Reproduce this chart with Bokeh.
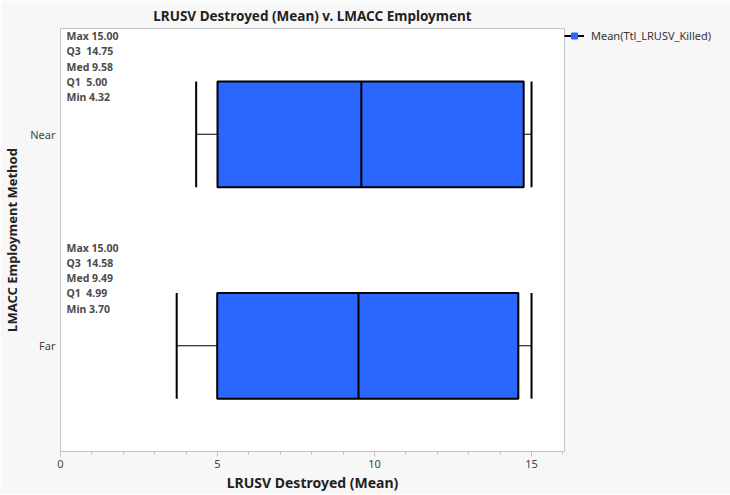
from bokeh.plotting import figure
from bokeh.models import (FactorRange, ColumnDataSource, Legend, LegendItem,
                          Range1d, FixedTicker)
from bokeh.transform import dodge
from bokeh.core.properties import value
from bokeh.embed import file_html
from bokeh.resources import INLINE

# ---- data ----
methods = ["Near", "Far"]
mins = [4.32, 3.70]
q1s = [5.00, 4.99]
meds = [9.58, 9.49]
q3s = [14.75, 14.58]
maxs = [15.00, 15.00]
x_ticks = [0, 5, 10, 15]
x_minor_ticks = list(range(0, 17))
legend_label = "Mean(Ttl_LRUSV_Killed)"
title_text = "LRUSV Destroyed (Mean) v. LMACC Employment"

NB = "\u00a0"
stats_text = [
    f"Max {mx:.2f}\nQ3{NB} {q3:.2f}\nMed {md:.2f}\nQ1{NB} {q1:.2f}\nMin {mn:.2f}"
    for mx, q3, md, q1, mn in zip(maxs, q3s, meds, q1s, mins)
]

FONT = "Noto Sans"
BLUE = "#2b66ff"

src = ColumnDataSource(dict(method=methods, lo=mins, q1=q1s, med=meds,
                            q3=q3s, hi=maxs, stats=stats_text))

p = figure(frame_width=504, frame_height=423,
           y_range=FactorRange(factors=["Far", "Near"], range_padding=0),
           x_range=Range1d(0, 16.05),
           output_backend="svg", toolbar_location=None,
           title=title_text,
           min_border_left=54, min_border_right=10,
           min_border_top=19, min_border_bottom=30,
           background_fill_color="white", border_fill_color="#f7f7f7",
           outline_line_color="#c4c4c4", outline_line_width=1)

p.title.align = "center"
p.title.text_font = FONT
p.title.text_font_size = "13.5px"
p.title.text_font_style = "bold"
p.title.text_color = "#222222"
p.title.standoff = 8
p.title.offset = 0

p.xgrid.visible = False
p.ygrid.visible = False

xa = p.xaxis[0]
xa.ticker = FixedTicker(ticks=x_ticks, minor_ticks=x_minor_ticks)
xa.axis_line_color = "#c4c4c4"
xa.major_tick_line_color = "#c4c4c4"
xa.minor_tick_line_color = "#c4c4c4"
xa.major_tick_in = 0
xa.major_tick_out = 5
xa.minor_tick_in = 0
xa.minor_tick_out = 3
xa.major_label_text_font = FONT
xa.major_label_text_font_size = "11px"
xa.major_label_text_color = "#444444"
xa.major_label_standoff = 3
xa.axis_label = "LRUSV Destroyed (Mean)"
xa.axis_label_text_font = FONT
xa.axis_label_text_font_size = "14px"
xa.axis_label_text_font_style = "bold"
xa.axis_label_text_color = "#222222"
xa.axis_label_standoff = 2

ya = p.yaxis[0]
ya.axis_line_color = None
ya.major_tick_line_color = None
ya.minor_tick_line_color = None
ya.major_tick_in = 0
ya.major_tick_out = 0
ya.minor_tick_in = 0
ya.minor_tick_out = 0
ya.major_label_text_font = FONT
ya.major_label_text_font_size = "11px"
ya.major_label_text_color = "#444444"
ya.major_label_standoff = 5
ya.axis_label = "LMACC Employment Method"
ya.axis_label_text_font = FONT
ya.axis_label_text_font_size = "13px"
ya.axis_label_text_font_style = "bold"
ya.axis_label_text_color = "#222222"
ya.axis_label_standoff = 6

# legend-only marks, hidden under the boxes
leg_line = p.segment(x0="q1", x1="q3", y0="method", y1="method",
                     line_color="black", line_width=2, source=src)
leg_mark = p.scatter(x="med", y="method", marker="square", size=6,
                     fill_color=BLUE, line_color=BLUE, source=src)

# whiskers
p.segment(x0="lo", x1="q1", y0="method", y1="method", line_color="black",
          line_width=1.2, source=src)
p.segment(x0="q3", x1="hi", y0="method", y1="method", line_color="black",
          line_width=1.2, source=src)
# boxes
p.hbar(y="method", left="q1", right="q3", height=0.5, fill_color=BLUE,
       line_color="black", line_width=2, source=src)
# median
p.segment(x0="med", x1="med",
          y0=dodge("method", -0.25, range=p.y_range),
          y1=dodge("method", 0.25, range=p.y_range),
          line_color="black", line_width=2, source=src)
# caps
for col in ("lo", "hi"):
    p.segment(x0=col, x1=col,
              y0=dodge("method", -0.25, range=p.y_range),
              y1=dodge("method", 0.25, range=p.y_range),
              line_color="black", line_width=2, source=src)

# summary stats text
p.text(x=0, y=dodge("method", 0.497, range=p.y_range), text="stats",
       x_offset=6, text_baseline="top", text_align="left",
       text_font=value(FONT), text_font_size="10.5px", text_font_style="bold",
       text_color="#4a4a4a", text_line_height=1.09, source=src)

# legend
legend = Legend(items=[LegendItem(label=legend_label,
                                  renderers=[leg_line, leg_mark])],
                location="top_left", margin=0, padding=2,
                border_line_color=None, background_fill_alpha=0,
                glyph_width=20, glyph_height=15, label_standoff=7,
                label_text_font=FONT, label_text_font_size="11px",
                label_text_color="#333333")
p.add_layout(legend, "right")

open("out.html", "w").write(file_html(p, INLINE))
